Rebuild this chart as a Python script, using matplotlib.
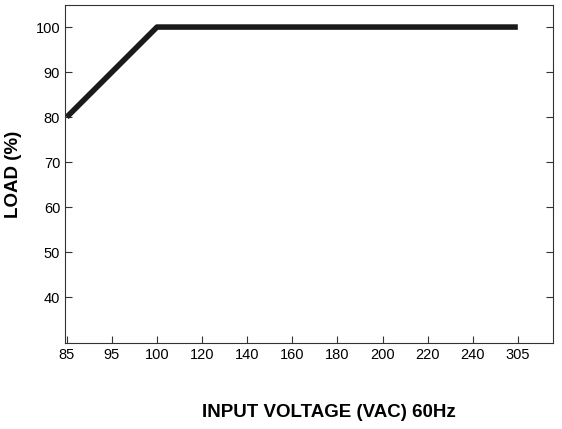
import matplotlib
matplotlib.use("Agg")
import matplotlib.pyplot as plt

x_labels = ["85", "95", "100", "120", "140", "160", "180", "200", "220", "240", "305"]
line_x = ["85", "100", "305"]
line_y = [80, 100, 100]
y_ticks = [40, 50, 60, 70, 80, 90, 100]

plt.rcParams['font.family'] = ['Liberation Sans', 'DejaVu Sans']
fig = plt.figure(figsize=(5.62, 4.29), dpi=100)
ax = fig.add_axes([65/562, 1-343/429, (553-65)/562, (343-5)/429])
pos = {l: i for i, l in enumerate(x_labels)}
ax.plot([pos[v] for v in line_x], line_y, color='#1a1a1a', lw=4, solid_capstyle='butt')
ax.set_xticks(range(len(x_labels)))
ax.set_xticklabels(x_labels)
ax.set_yticks(y_ticks)
ax.set_xlim(-0.04, 10.78)
ax.set_ylim(29.8, 104.9)
ax.tick_params(direction='in', right=True, labelsize=10.5, length=5, color='#333333')
for s in ax.spines.values():
    s.set_color('#333333'); s.set_linewidth(0.8)
ax.set_xlabel("INPUT VOLTAGE (VAC) 60Hz", fontsize=13.5, fontweight='bold', labelpad=30, x=0.54)
ax.set_ylabel("LOAD (%)", fontsize=13.5, fontweight='bold', labelpad=10)
fig.savefig("out.png", dpi=100)
